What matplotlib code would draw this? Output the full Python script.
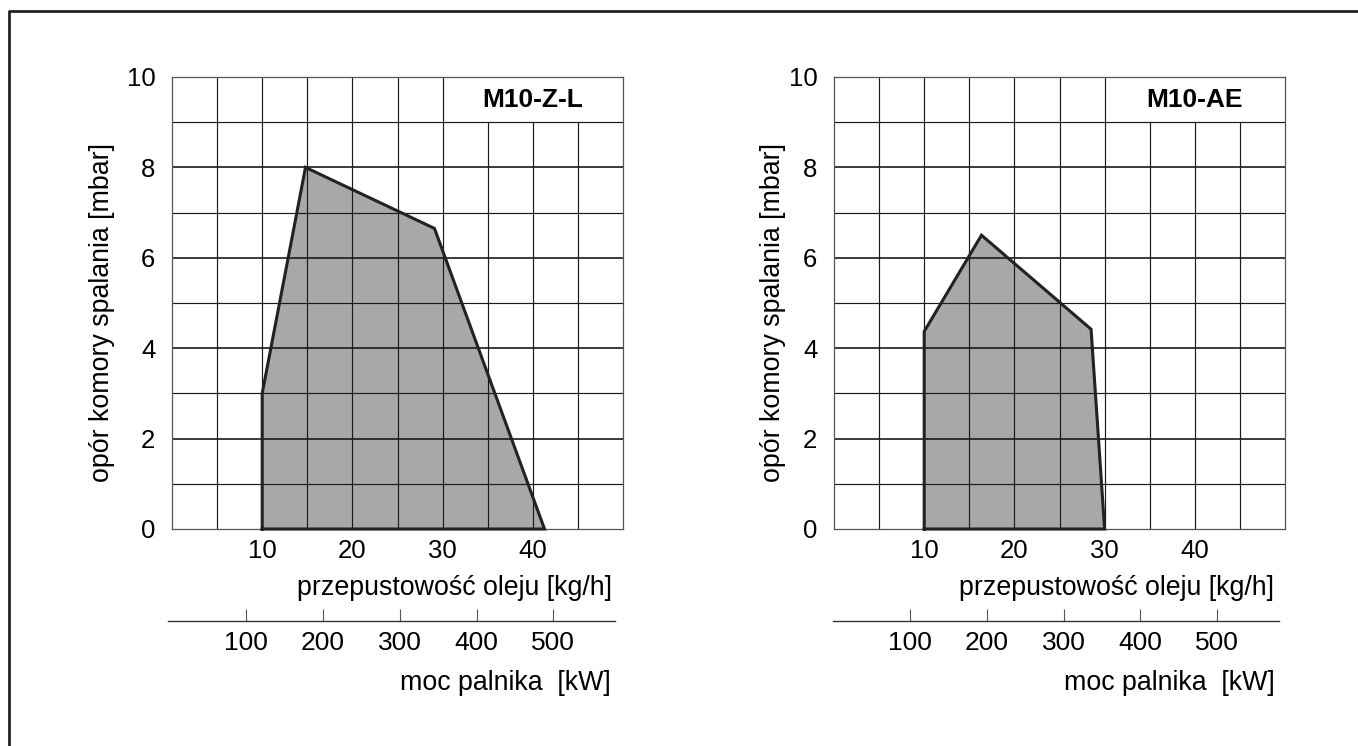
import matplotlib
matplotlib.use("Agg")
import matplotlib.pyplot as plt
from matplotlib.lines import Line2D

plt.rcParams['font.family'] = ['Liberation Sans', 'DejaVu Sans']

# data (x: kg/h, y: mbar)
zl_x = [10, 10, 14.8, 29.1, 41.3]
zl_y = [0, 3.0, 8.0, 6.65, 0]
ae_x = [10, 10, 16.35, 28.5, 30.0]
ae_y = [0, 4.37, 6.5, 4.42, 0]

names = ["M10-Z-L", "M10-AE"]
kg_ticks = [10, 20, 30, 40]
y_ticks = [0, 2, 4, 6, 8, 10]
kw_ticks = [100, 200, 300, 400, 500]

W, H = 1358, 746
fig = plt.figure(figsize=(W / 100, H / 100), dpi=100)

def px(x0, y0, w, h):
    return [x0 / W, 1 - (y0 + h) / H, w / W, h / H]

panels = [
    (172, zl_x, zl_y, names[0], 168, 615, -2.1, 580.5, -0.126),
    (834, ae_x, ae_y, names[1], 833, 1279, -0.7, 580.5, -0.106),
]

for left, xs, ys, name, kw_l, kw_r, kw_lo, kw_hi, ylab_x in panels:
    ax = fig.add_axes(px(left, 77, 451, 452))
    ax.set_xlim(0, 50)
    ax.set_ylim(0, 10)

    # grid, leaving the title cell free
    for gx in range(5, 50, 5):
        top = 9 if gx > 30 else 10
        ax.plot([gx, gx], [0, top], color='#1a1a1a', lw=0.85, zorder=2)
    for gy in range(1, 10):
        ax.plot([0, 50], [gy, gy], color='#1a1a1a',
                lw=1.2 if gy % 2 == 0 else 0.85, zorder=2)

    ax.fill(xs, ys, color='#a8a8a8', lw=0, zorder=1)
    ax.plot(xs + [xs[0]], ys + [ys[0]], color='#222222', lw=2.2,
            zorder=3, solid_joinstyle='miter', clip_on=False)

    ax.text(40, 9.5, name, ha='center', va='center', fontsize=19,
            fontweight='bold', zorder=4)

    for s in ax.spines.values():
        s.set_color('#555555')
        s.set_linewidth(0.9)

    ax.set_xticks(kg_ticks)
    ax.set_yticks(y_ticks)
    ax.tick_params(axis='both', length=0, labelsize=18.5)
    ax.tick_params(axis='x', pad=7)
    ax.tick_params(axis='y', pad=12)
    ax.set_ylabel('opór komory spalania [mbar]', fontsize=19.3)
    ax.yaxis.set_label_coords(ylab_x, 0.478)
    ax.text(0.975, -0.13, 'przepustowość oleju [kg/h]', transform=ax.transAxes,
            ha='right', va='center', fontsize=19.3)

    # power axis below
    kx = fig.add_axes(px(kw_l, 600, kw_r - kw_l, 21))
    kx.set_xlim(kw_lo, kw_hi)
    kx.set_ylim(0, 1)
    kx.patch.set_visible(False)
    for k in ['top', 'left', 'right']:
        kx.spines[k].set_visible(False)
    kx.spines['bottom'].set_color('#333333')
    kx.spines['bottom'].set_linewidth(1.0)
    kx.set_yticks([])
    kx.set_xticks(kw_ticks)
    kx.tick_params(axis='x', direction='in', length=9, width=0.8,
                   color='#555555', labelsize=19, pad=7)
    kx.text(0.99, -2.95, 'moc palnika  [kW]', transform=kx.transAxes,
            ha='right', va='center', fontsize=19.3)

# page frame (top and left edges)
fig.add_artist(Line2D([9 / W, 9 / W, 1], [0, 1 - 11 / H, 1 - 11 / H],
                      color='#222222', lw=2.0, transform=fig.transFigure))

fig.savefig('out.png', dpi=100)
